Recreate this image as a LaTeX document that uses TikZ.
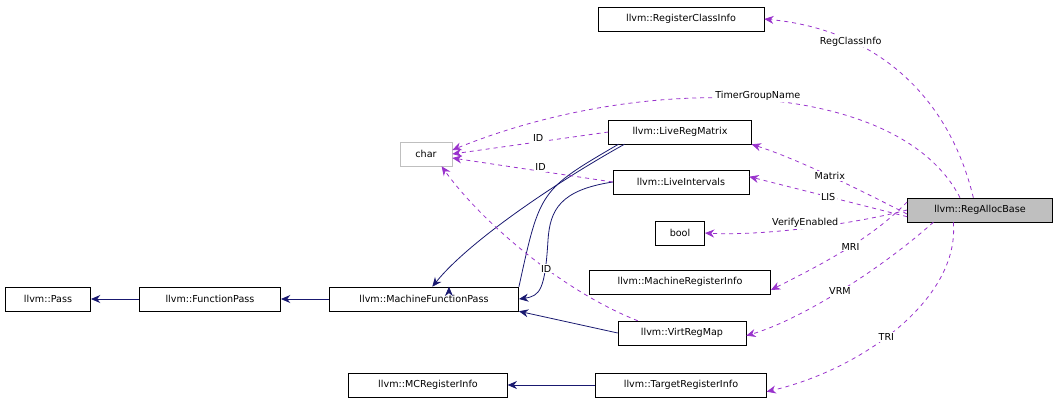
\documentclass[tikz,border=0pt]{standalone}
\usepackage{fontspec}
\setmainfont{DejaVu Sans}
\usetikzlibrary{arrows.meta}
\begin{document}
\begin{tikzpicture}[x=0.75pt,y=-0.75pt,
  box/.style={draw,fill=white,inner sep=0pt,minimum height=18pt,font=\fontsize{7.2}{8}\selectfont},
  inh/.style={draw={rgb,255:red,25;green,25;blue,112},-{Stealth[length=7pt,width=6pt]},semithick},
  mem/.style={draw={rgb,255:red,153;green,50;blue,204},dashed,-{Stealth[length=7pt,width=6pt]},semithick},
  lbl/.style={font=\fontsize{7.2}{8}\selectfont,fill=white,inner sep=1pt}]
\useasboundingbox (0,0) rectangle (1059,404);
\node[box,minimum width=124.5pt] (rci) at (681,19) {llvm::RegisterClassInfo};
\node[box,draw={rgb,255:red,191;green,191;blue,191},minimum width=39pt,text={rgb,255:red,0;green,0;blue,0}] (char) at (426,154) {char};
\node[box,minimum width=107pt] (lrm) at (680,132) {llvm::LiveRegMatrix};
\node[box,minimum width=102pt] (li) at (681,182) {llvm::LiveIntervals};
\node[box,fill={rgb,255:red,191;green,191;blue,191},minimum width=109pt] (rab) at (980,210) {llvm::RegAllocBase};
\node[box,minimum width=37pt] (bool) at (680,233) {bool};
\node[box,minimum width=136pt] (mri) at (680,282) {llvm::MachineRegisterInfo};
\node[box,minimum width=64pt] (pass) at (48,299) {llvm::Pass};
\node[box,minimum width=106pt] (fp) at (210,299) {llvm::FunctionPass};
\node[box,minimum width=142pt] (mfp) at (424,299) {llvm::MachineFunctionPass};
\node[box,minimum width=96pt] (vrm) at (682,333) {llvm::VirtRegMap};
\node[box,minimum width=119pt] (mc) at (428,385) {llvm::MCRegisterInfo};
\node[box,minimum width=128pt] (tri) at (681,385) {llvm::TargetRegisterInfo};
% inheritance
\draw[inh] (fp) -- (pass);
\draw[inh] (mfp) -- (fp);
\draw[inh] (lrm.south west) ++(10,0) .. controls (540,190) .. (mfp.north east) ++(-70,0);
\draw[inh] ([xshift=12pt]lrm.south west) .. controls (560,180) and (470,240) .. ([xshift=-65pt]mfp.north east);
\draw[inh] (li.west) .. controls (560,190) and (550,210) .. (548,240) .. controls (545,290) and (540,296) .. (mfp.east);
\draw[inh] (vrm.west) -- (mfp.south east);
\draw[inh] (tri) -- (mc);
% members
\draw[mem] (lrm.west) -- node[lbl,pos=0.45,above=-1pt]{ID} (char.east);
\draw[mem] (li.west) -- node[lbl,pos=0.45,above=-1pt]{ID} ([yshift=-3pt]char.east);
\draw[mem] ([xshift=15pt]vrm.north west) .. controls (560,290) and (480,220) .. node[lbl,pos=0.4]{ID} ([xshift=-8pt]char.south east);
\draw[mem] ([xshift=-15pt]rab.north) .. controls (900,80) and (650,70) .. node[lbl,pos=0.5,above=-2pt]{TimerGroupName} ([yshift=3pt]char.east);
\draw[mem] ([xshift=-5pt]rab.north) .. controls (950,100) and (880,30) .. node[lbl,pos=0.72]{RegClassInfo} (rci.east);
\draw[mem] ([yshift=-3pt]rab.west) .. controls (860,190) and (800,160) .. node[lbl,pos=0.5]{Matrix} (lrm.south east);
\draw[mem] ([yshift=-5pt]rab.west) -- node[lbl,pos=0.5]{LIS} ([yshift=4pt]li.east);
\draw[mem] (rab.west) .. controls (850,225) and (760,236) .. node[lbl,pos=0.5,above=-1pt]{VerifyEnabled} (bool.east);
\draw[mem] ([yshift=6pt]rab.west) .. controls (870,240) and (820,265) .. node[lbl,pos=0.45]{MRI} ([yshift=-6pt]mri.east);
\draw[mem] ([xshift=-35pt]rab.south) .. controls (880,270) and (800,320) .. node[lbl,pos=0.5]{VRM} ([yshift=-2pt]vrm.east);
\draw[mem] ([xshift=-20pt]rab.south) .. controls (960,300) and (860,370) .. node[lbl,pos=0.55]{TRI} ([yshift=-5pt]tri.east);
\end{tikzpicture}
\end{document}
